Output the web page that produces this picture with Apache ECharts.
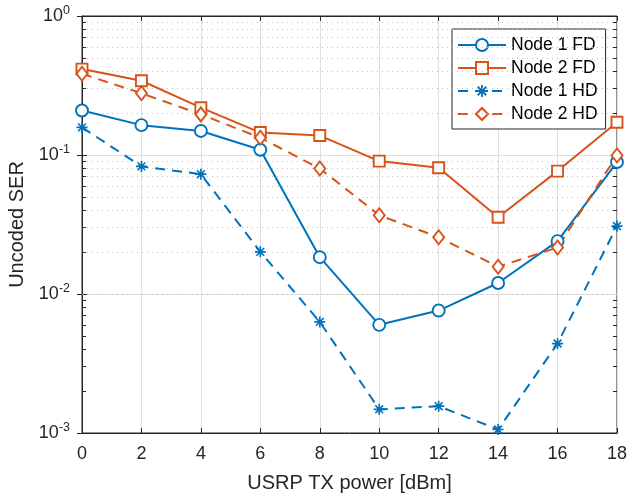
<!DOCTYPE html>
<html>
<head>
<meta charset="utf-8">
<script src="https://cdn.jsdelivr.net/npm/echarts@6/dist/echarts.min.js"></script>
<style>
  html, body { margin: 0; padding: 0; background: #fff; }
  #chart { width: 632px; height: 493px; }
</style>
</head>
<body>
<div id="chart"></div>
<script>
// Transmit power sweep (dBm)
const txPower = [0, 2, 4, 6, 8, 10, 12, 14, 16, 18];

// Uncoded symbol error rate per node and duplex mode
const node1FD = [0.209, 0.164, 0.149, 0.109, 0.0184, 0.0060, 0.0076, 0.0120, 0.0240, 0.0890];
const node2FD = [0.415, 0.342, 0.219, 0.145, 0.138, 0.0904, 0.0810, 0.0357, 0.0766, 0.172];
const node1HD = [0.158, 0.0828, 0.0728, 0.0201, 0.0063, 0.00148, 0.00156, 0.00106, 0.0044, 0.0308];
const node2HD = [0.384, 0.278, 0.196, 0.133, 0.080, 0.0369, 0.0256, 0.0157, 0.0216, 0.0993];

const seriesNames = ['Node 1 FD', 'Node 2 FD', 'Node 1 HD', 'Node 2 HD'];

// Axis ranges
const xTicks = [0, 2, 4, 6, 8, 10, 12, 14, 16, 18];
const yMin = 1e-3, yMax = 1;

const BLUE = '#0072BD';
const ORANGE = '#D95319';
const AXIS = '#262626';
const FONT = '"Liberation Sans", Arial, Helvetica, sans-serif';

// Asterisk marker: four crossing bars, all wound the same way
const ASTERISK = 'path://M8.5,0L11.5,0L11.5,20L8.5,20Z' +
  'M0,8.5L20,8.5L20,11.5L0,11.5Z' +
  'M3.99,1.87L18.13,16.01L16.01,18.13L1.87,3.99Z' +
  'M16.01,1.87L18.13,3.99L3.99,18.13L1.87,16.01Z';

// Minor decade values (2..9 x 10^k) for dotted grid and small ticks
const minorVals = [];
for (let e = -3; e < 0; e++) {
  for (let k = 2; k <= 9; k++) minorVals.push(+(k * Math.pow(10, e)).toPrecision(3));
}

const gridLeft = 82, gridRight = 15, gridTop = 16, gridBottom = 60;
const plotW = 632 - gridLeft - gridRight;
const xMin = xTicks[0], xMax = xTicks[xTicks.length - 1];
const tickData = (xMax - xMin) * 4 / plotW;

const minorGrid = minorVals.map(v => ({ yAxis: v }));
const minorTicks = [];
minorVals.forEach(v => {
  minorTicks.push([{ coord: [xMin, v] }, { coord: [xMin + tickData, v] }]);
  minorTicks.push([{ coord: [xMax - tickData, v] }, { coord: [xMax, v] }]);
});

function toPairs(ys) { return txPower.map((x, i) => [x, ys[i]]); }

const lineBase = { type: 'line', z: 5, showAllSymbol: true };

function mkSeries(name, ys, color, dashed, symbol, size, filled) {
  return Object.assign({}, lineBase, {
    name: name,
    data: toPairs(ys),
    symbol: symbol,
    symbolSize: size,
    lineStyle: { color: color, width: 2, type: dashed ? [10, 7] : 'solid' },
    itemStyle: filled
      ? { color: color, borderWidth: 0 }
      : { color: '#fff', borderColor: color, borderWidth: 1.9 },
    emphasis: { disabled: true }
  });
}

const chart = echarts.init(document.getElementById('chart'), null, { renderer: 'canvas' });

const supLabel = {
  formatter: v => '{b|10}{s|' + Math.round(Math.log10(v)) + '}',
  rich: {
    b: { fontSize: 18, fontFamily: FONT, color: AXIS },
    s: { fontSize: 12.5, fontFamily: FONT, color: AXIS, padding: [0, 0, 10, 0] }
  },
  margin: 12
};

chart.setOption({
  animation: false,
  backgroundColor: '#fff',
  textStyle: { fontFamily: FONT },
  grid: {
    left: gridLeft, right: gridRight, top: gridTop, bottom: gridBottom,
    outerBoundsMode: 'none', containLabel: false,
    show: true, borderColor: AXIS, borderWidth: 1, backgroundColor: '#fff'
  },
  legend: {
    data: seriesNames,
    orient: 'vertical',
    left: 452, top: 29,
    padding: [7, 8, 6, 5],
    itemWidth: 48, itemHeight: 15, itemGap: 5,
    backgroundColor: '#fff',
    borderColor: AXIS, borderWidth: 1,
    textStyle: { fontSize: 17.5, lineHeight: 18, color: '#000', fontFamily: FONT },
    selectedMode: false
  },
  xAxis: [{
    type: 'value', min: xMin, max: xMax, interval: 2,
    name: 'USRP TX power [dBm]', nameLocation: 'middle', nameGap: 40,
    nameTextStyle: { fontSize: 20, color: AXIS, fontFamily: FONT },
    axisLine: { show: true, lineStyle: { color: AXIS, width: 1 } },
    axisTick: { show: true, inside: true, length: 5, lineStyle: { color: AXIS } },
    axisLabel: { fontSize: 18, color: AXIS, margin: 12, fontFamily: FONT },
    splitLine: { show: true, lineStyle: { color: '#dfdfdf', width: 1 } }
  }, {
    type: 'value', position: 'top', min: xMin, max: xMax, interval: 2,
    axisLine: { show: true, lineStyle: { color: AXIS, width: 1 } },
    axisTick: { show: true, inside: true, length: 5, lineStyle: { color: AXIS } },
    axisLabel: { show: false }, splitLine: { show: false }
  }],
  yAxis: [{
    type: 'log', logBase: 10, min: yMin, max: yMax,
    name: 'Uncoded SER', nameLocation: 'middle', nameGap: 43,
    nameTextStyle: { fontSize: 20, color: AXIS, fontFamily: FONT },
    axisLine: { show: true, lineStyle: { color: AXIS, width: 1 } },
    axisTick: { show: true, inside: true, length: 5, lineStyle: { color: AXIS } },
    axisLabel: supLabel,
    splitLine: { show: true, lineStyle: { color: '#dfdfdf', width: 1 } }
  }, {
    type: 'log', logBase: 10, min: yMin, max: yMax, position: 'right',
    axisLine: { show: true, lineStyle: { color: AXIS, width: 1 } },
    axisTick: { show: true, inside: true, length: 5, lineStyle: { color: AXIS } },
    axisLabel: { show: false }, splitLine: { show: false }
  }],
  series: [
    {
      type: 'line', name: '_grid', data: [], z: 1, silent: true,
      markLine: {
        silent: true, symbol: ['none', 'none'], label: { show: false },
        lineStyle: { color: '#bdbdbd', type: [1, 4], width: 1 },
        emphasis: { disabled: true },
        data: minorGrid
      }
    },
    {
      type: 'line', name: '_ticks', data: [], z: 2, silent: true,
      markLine: {
        silent: true, symbol: ['none', 'none'], label: { show: false },
        lineStyle: { color: AXIS, type: 'solid', width: 1 },
        emphasis: { disabled: true },
        data: minorTicks
      }
    },
    mkSeries(seriesNames[0], node1FD, BLUE, false, 'circle', 12, false),
    mkSeries(seriesNames[1], node2FD, ORANGE, false, 'rect', 11, false),
    mkSeries(seriesNames[2], node1HD, BLUE, true, ASTERISK, 11, true),
    mkSeries(seriesNames[3], node2HD, ORANGE, true, 'diamond', [11, 14], false)
  ]
});
</script>
</body>
</html>
